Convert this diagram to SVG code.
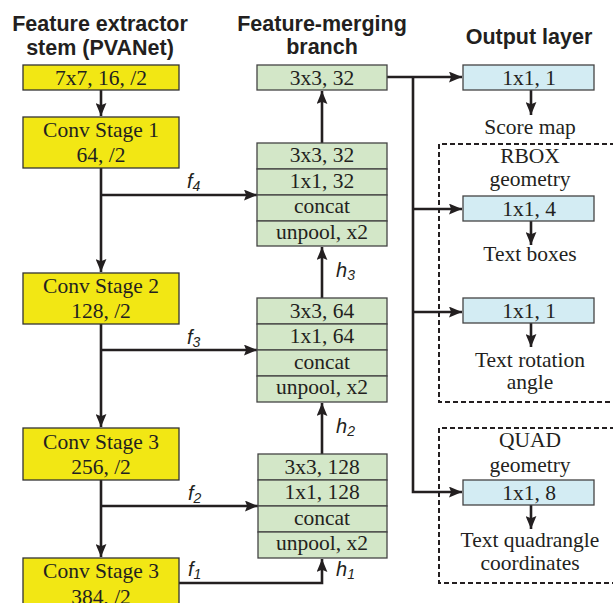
<svg xmlns="http://www.w3.org/2000/svg" width="613" height="603" viewBox="0 0 613 603">
<defs>
<marker id="ah" viewBox="0 0 12 10" refX="12" refY="5" markerWidth="13" markerHeight="11" markerUnits="userSpaceOnUse" orient="auto"><path d="M0,0 L12,5 L0,10 L2,5 z" fill="#231f20"/></marker>
<style>
.h{font-family:"Liberation Sans",Arial,sans-serif;font-weight:bold;font-size:21.5px;fill:#231f20;text-anchor:middle}
.t{font-family:"Liberation Serif","Times New Roman",serif;font-size:21.5px;fill:#231f20;text-anchor:middle}
.i{font-family:"Liberation Sans",Arial,sans-serif;font-style:italic;font-size:20px;fill:#231f20}
.s{font-family:"Liberation Sans",Arial,sans-serif;font-style:italic;font-size:14px}
.y{fill:#f2e714;stroke:#333;stroke-width:1.3}
.g{fill:#d3e7c8;stroke:#444;stroke-width:1.3}
.b{fill:#d3ecf3;stroke:#444;stroke-width:1.3}
.c{fill:none;stroke:#231f20;stroke-width:2.6}
.d{fill:none;stroke:#231f20;stroke-width:2;stroke-dasharray:5,3}
</style>
</defs>
<rect width="613" height="603" fill="#fff"/>
<g id="headings">
<text class="h" x="100" y="31">Feature extractor</text>
<text class="h" x="100" y="55">stem (PVANet)</text>
<text class="h" x="322" y="31">Feature-merging</text>
<text class="h" x="322" y="54">branch</text>
<text class="h" x="529" y="44">Output layer</text>
</g>
<g id="dashed-groups">
<path class="d" d="M615,144 H439 V402 H615"/>
<path class="d" d="M615,428 H439 V583 H615"/>
</g>
<g id="connectors">
<path class="c" d="M101,90 V116" marker-end="url(#ah)"/>
<path class="c" d="M101,168 V272" marker-end="url(#ah)"/>
<path class="c" d="M101,324 V427" marker-end="url(#ah)"/>
<path class="c" d="M101,480 V557" marker-end="url(#ah)"/>
<path class="c" d="M101,195 H257" marker-end="url(#ah)"/>
<path class="c" d="M101,350 H257" marker-end="url(#ah)"/>
<path class="c" d="M101,506 H258" marker-end="url(#ah)"/>
<path class="c" d="M179,583 H322 V559" marker-end="url(#ah)"/>
<path class="c" d="M322,454 V403" marker-end="url(#ah)"/>
<path class="c" d="M322,298 V247" marker-end="url(#ah)"/>
<path class="c" d="M322,143 V91" marker-end="url(#ah)"/>
<path class="c" d="M387,77 H462" marker-end="url(#ah)"/>
<path class="c" d="M413,77 V492 H462" marker-end="url(#ah)"/>
<path class="c" d="M413,209 H462" marker-end="url(#ah)"/>
<path class="c" d="M413,312 H462" marker-end="url(#ah)"/>
<path class="c" d="M531,90 V115" marker-end="url(#ah)"/>
<path class="c" d="M531,221 V245" marker-end="url(#ah)"/>
<path class="c" d="M531,323 V347" marker-end="url(#ah)"/>
<path class="c" d="M531,505 V529" marker-end="url(#ah)"/>
</g>
<g id="edge-labels">
<text class="i" x="187" y="188">f<tspan class="s" dy="3">4</tspan></text>
<text class="i" x="187" y="344">f<tspan class="s" dy="3">3</tspan></text>
<text class="i" x="188" y="500">f<tspan class="s" dy="3">2</tspan></text>
<text class="i" x="188" y="576">f<tspan class="s" dy="3">1</tspan></text>
<text class="i" x="336" y="277">h<tspan class="s" dy="3">3</tspan></text>
<text class="i" x="336" y="433">h<tspan class="s" dy="3">2</tspan></text>
<text class="i" x="336" y="576">h<tspan class="s" dy="3">1</tspan></text>
</g>
<g id="stem-7x7">
<rect class="y" x="23" y="65" width="156" height="25"/>
<text class="t" x="101" y="85">7x7, 16, /2</text>
</g>
<g id="conv-stage-1">
<rect class="y" x="23" y="117" width="156" height="51"/>
<text class="t" x="101" y="137">Conv Stage 1</text>
<text class="t" x="101" y="162">64, /2</text>
</g>
<g id="conv-stage-2">
<rect class="y" x="23" y="273" width="156" height="51"/>
<text class="t" x="101" y="293">Conv Stage 2</text>
<text class="t" x="101" y="318">128, /2</text>
</g>
<g id="conv-stage-3a">
<rect class="y" x="23" y="428" width="156" height="52"/>
<text class="t" x="101" y="449">Conv Stage 3</text>
<text class="t" x="101" y="474">256, /2</text>
</g>
<g id="conv-stage-3b">
<rect class="y" x="23" y="558" width="156" height="60"/>
<text class="t" x="101" y="578">Conv Stage 3</text>
<text class="t" x="101" y="604">384, /2</text>
</g>
<g id="merge-top">
<rect class="g" x="257" y="65" width="130" height="25"/>
<text class="t" x="322" y="85">3x3, 32</text>
</g>
<g id="merge-block-1">
<rect class="g" x="257" y="143" width="130" height="26"/>
<rect class="g" x="257" y="169" width="130" height="26"/>
<rect class="g" x="257" y="195" width="130" height="26"/>
<rect class="g" x="257" y="221" width="130" height="25"/>
<text class="t" x="322" y="162">3x3, 32</text>
<text class="t" x="322" y="188">1x1, 32</text>
<text class="t" x="322" y="213">concat</text>
<text class="t" x="322" y="239">unpool, x2</text>
</g>
<g id="merge-block-2">
<rect class="g" x="257" y="298" width="130" height="26"/>
<rect class="g" x="257" y="324" width="130" height="26"/>
<rect class="g" x="257" y="350" width="130" height="26"/>
<rect class="g" x="257" y="376" width="130" height="26"/>
<text class="t" x="322" y="318">3x3, 64</text>
<text class="t" x="322" y="343">1x1, 64</text>
<text class="t" x="322" y="369">concat</text>
<text class="t" x="322" y="394">unpool, x2</text>
</g>
<g id="merge-block-3">
<rect class="g" x="258" y="454" width="129" height="26"/>
<rect class="g" x="258" y="480" width="129" height="26"/>
<rect class="g" x="258" y="506" width="129" height="26"/>
<rect class="g" x="258" y="532" width="129" height="26"/>
<text class="t" x="322" y="474">3x3, 128</text>
<text class="t" x="322" y="499">1x1, 128</text>
<text class="t" x="322" y="525">concat</text>
<text class="t" x="322" y="550">unpool, x2</text>
</g>
<g id="out-score">
<rect class="b" x="463" y="65" width="131" height="25"/>
<text class="t" x="529" y="85">1x1, 1</text>
<text class="t" x="530" y="134">Score map</text>
</g>
<g id="out-rbox">
<text class="t" x="530" y="163">RBOX</text>
<text class="t" x="530" y="186">geometry</text>
<rect class="b" x="463" y="196" width="131" height="25"/>
<text class="t" x="529" y="216">1x1, 4</text>
<text class="t" x="530" y="261">Text boxes</text>
<rect class="b" x="463" y="298" width="131" height="25"/>
<text class="t" x="529" y="318">1x1, 1</text>
<text class="t" x="530" y="367">Text rotation</text>
<text class="t" x="530" y="389">angle</text>
</g>
<g id="out-quad">
<text class="t" x="530" y="447">QUAD</text>
<text class="t" x="530" y="472">geometry</text>
<rect class="b" x="463" y="480" width="131" height="25"/>
<text class="t" x="529" y="500">1x1, 8</text>
<text class="t" x="530" y="547">Text quadrangle</text>
<text class="t" x="530" y="570">coordinates</text>
</g>
</svg>
